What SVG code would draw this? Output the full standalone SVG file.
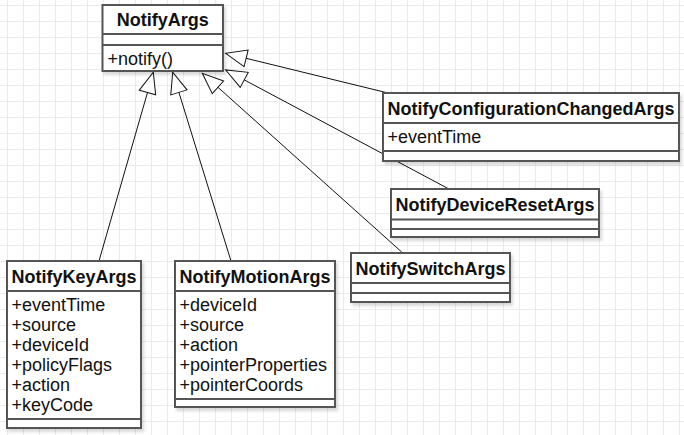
<svg xmlns="http://www.w3.org/2000/svg" width="684" height="435" viewBox="0 0 684 435">
<style>
.box{fill:#fff;stroke:#555;stroke-width:2;filter:url(#sh)}
.div{stroke:#555;stroke-width:2;fill:none}
.t{font-family:"Liberation Sans",Arial,sans-serif;font-size:18px;font-weight:bold;fill:#111;text-anchor:middle}
.a{font-family:"Liberation Sans",Arial,sans-serif;font-size:18px;fill:#111}
.edge{stroke:#111;stroke-width:1;fill:none;marker-end:url(#tri)}
</style>
<defs>
<pattern id="grid" x="7" y="5" width="16" height="16" patternUnits="userSpaceOnUse">
<path d="M0.5,0 V16 M0,0.5 H16" stroke="#ebebeb" stroke-width="1" fill="none"/>
</pattern>
<filter id="sh" x="-10%" y="-10%" width="130%" height="130%">
<feDropShadow dx="2" dy="3" stdDeviation="1.5" flood-color="#000" flood-opacity="0.15"/>
</filter>
<marker id="tri" viewBox="-1 -1 23 19" markerWidth="23" markerHeight="19" refX="21" refY="8.5" orient="auto" markerUnits="userSpaceOnUse" overflow="visible">
<path d="M0,0 L21,8.5 L0,17 Z" fill="#fff" stroke="#111" stroke-width="1"/>
</marker>
</defs>
<rect width="684" height="435" fill="#fff"/>
<rect width="684" height="435" fill="url(#grid)"/>

<g id="connectors">
<line class="edge" x1="99" y1="261" x2="153.3" y2="72.3"/>
<line class="edge" x1="231" y1="261" x2="172.7" y2="72.3"/>
<line class="edge" x1="401.7" y1="252" x2="202.3" y2="73.3"/>
<line class="edge" x1="448" y1="188.5" x2="225.7" y2="70"/>
<line class="edge" x1="386" y1="92.5" x2="225.7" y2="53.3"/>
</g>

<g id="NotifyArgs">
<rect class="box" x="102.5" y="5" width="120.5" height="66"/>
<path class="div" d="M102.5,34 H223 M102.5,45 H223"/>
<text class="t" x="162.75" y="26">NotifyArgs</text>
<text class="a" x="107.5" y="65">+notify()</text>
</g>

<g id="NotifyConfigurationChangedArgs">
<rect class="box" x="383" y="93" width="296" height="68"/>
<path class="div" d="M383,123 H679 M383,151 H679"/>
<text class="t" x="531" y="114.5">NotifyConfigurationChangedArgs</text>
<text class="a" x="387.5" y="143">+eventTime</text>
</g>

<g id="NotifyDeviceResetArgs">
<rect class="box" x="391" y="189" width="208" height="48"/>
<path class="div" d="M391,219.5 H599 M391,229 H599"/>
<text class="t" x="495" y="210.5">NotifyDeviceResetArgs</text>
</g>

<g id="NotifyKeyArgs">
<rect class="box" x="7" y="261" width="134" height="167"/>
<path class="div" d="M7,291 H141 M7,419 H141"/>
<text class="t" x="74" y="282.5">NotifyKeyArgs</text>
<text class="a" x="11.5" y="311">+eventTime</text>
<text class="a" x="11.5" y="331">+source</text>
<text class="a" x="11.5" y="351">+deviceId</text>
<text class="a" x="11.5" y="371">+policyFlags</text>
<text class="a" x="11.5" y="391">+action</text>
<text class="a" x="11.5" y="411">+keyCode</text>
</g>

<g id="NotifyMotionArgs">
<rect class="box" x="175" y="261" width="160" height="146"/>
<path class="div" d="M175,291 H335 M175,399 H335"/>
<text class="t" x="255" y="282.5">NotifyMotionArgs</text>
<text class="a" x="179.5" y="311">+deviceId</text>
<text class="a" x="179.5" y="331">+source</text>
<text class="a" x="179.5" y="351">+action</text>
<text class="a" x="179.5" y="371">+pointerProperties</text>
<text class="a" x="179.5" y="391">+pointerCoords</text>
</g>

<g id="NotifySwitchArgs">
<rect class="box" x="351" y="253" width="159" height="49"/>
<path class="div" d="M351,283 H510 M351,293 H510"/>
<text class="t" x="430.5" y="274.5">NotifySwitchArgs</text>
</g>
</svg>
